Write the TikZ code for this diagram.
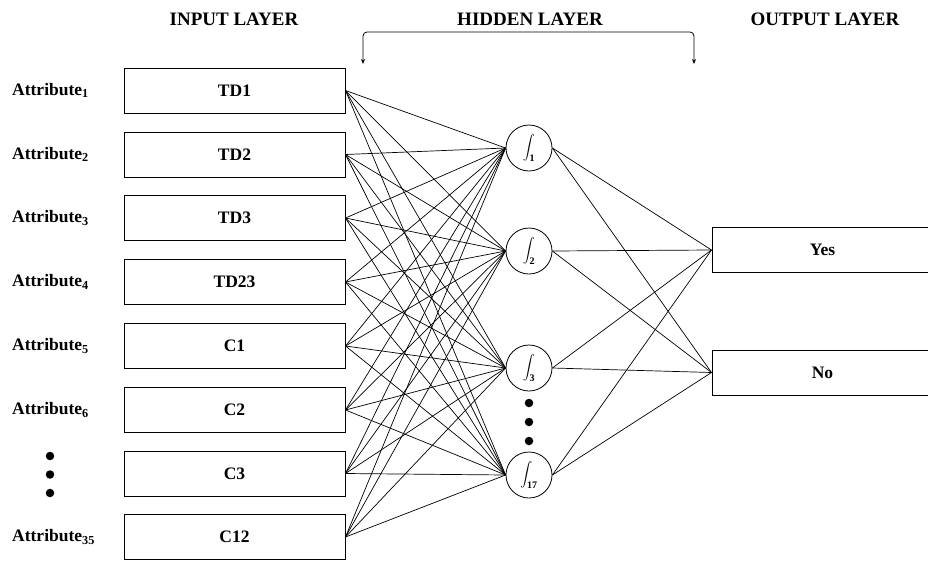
\documentclass[tikz,border=0pt]{standalone}
\usepackage{amsmath}
\usepackage{fontspec}
\setmainfont{Liberation Serif}
\usetikzlibrary{arrows.meta}
\newcommand{\hsub}[1]{\text{\fontsize{10}{10}\selectfont\bfseries #1}}
\begin{document}
\begin{tikzpicture}[x=1pt,y=-1pt,
  every node/.style={font=\fontsize{17.5}{20}\selectfont\bfseries},
  inbox/.style={draw, line width=1pt, minimum width=221pt, minimum height=45pt, inner sep=0pt},
  hid/.style={draw, circle, line width=0.8pt, minimum size=46pt, inner sep=0pt, font=\fontsize{13}{15}\selectfont},
  attr/.style={anchor=west, inner sep=0pt},
  head/.style={inner sep=0pt, font=\fontsize{19}{22}\selectfont\bfseries},
  conn/.style={line width=0.7pt},
  dotc/.style={fill, circle, minimum size=8.5pt, inner sep=0pt}]
\useasboundingbox (0,0) rectangle (928,560);
\clip (0,0) rectangle (928,560);

% headers
\node[head] (hin)  at (234,19) {INPUT LAYER};
\node[head] (hhid) at (530,19) {HIDDEN LAYER};
\node[head] (hout) at (825,19) {OUTPUT LAYER};

% brace arrows
\coordinate (bl) at (363,64);
\coordinate (br) at (694,64);
\draw[line width=0.8pt, rounded corners=4pt, {Stealth[length=5pt,width=4pt]}-{Stealth[length=5pt,width=4pt]}]
  (bl) -- (363,32) -- (694,32) -- (br);

% input boxes
\node[inbox] (i1) at (234.5,90.5) {TD1};
\node[inbox] (i2) at (234.5,154.5) {TD2};
\node[inbox] (i3) at (234.5,218) {TD3};
\node[inbox] (i4) at (234.5,282) {TD23};
\node[inbox] (i5) at (234.5,346) {C1};
\node[inbox] (i6) at (234.5,410) {C2};
\node[inbox] (i7) at (234.5,473.5) {C3};
\node[inbox] (i8) at (234.5,537) {C12};

% attribute labels
\node[attr] (a1) at (12,90.5) {Attribute\textsubscript{1}};
\node[attr] (a2) at (12,154.5) {Attribute\textsubscript{2}};
\node[attr] (a3) at (12,218) {Attribute\textsubscript{3}};
\node[attr] (a4) at (12,282) {Attribute\textsubscript{4}};
\node[attr] (a5) at (12,346) {Attribute\textsubscript{5}};
\node[attr] (a6) at (12,410) {Attribute\textsubscript{6}};
\node[attr] (a8) at (12,537) {Attribute\textsubscript{35}};
\node[dotc] (ld1) at (50,456) {};
\node[dotc] (ld2) at (50,474.5) {};
\node[dotc] (ld3) at (50,493) {};

% hidden nodes
\node[hid] (h1) at (529,148) {$\displaystyle\int_{\hsub{1}}$};
\node[hid] (h2) at (529,251) {$\displaystyle\int_{\hsub{2}}$};
\node[hid] (h3) at (529,368) {$\displaystyle\int_{\hsub{3}}$};
\node[hid] (h4) at (529,475) {$\displaystyle\int_{\hsub{17}}$};
\node[dotc] (hd1) at (529,403) {};
\node[dotc] (hd2) at (529,422) {};
\node[dotc] (hd3) at (529,441) {};

% output boxes
\node[inbox] (o1) at (822.5,250) {Yes};
\node[inbox] (o2) at (822.5,372.5) {No};

% connections
\foreach \i in {i1,i2,i3,i4,i5,i6,i7,i8}
  \foreach \h in {h1,h2,h3,h4}
    \draw[conn] (\i.east) -- (\h.west);
\foreach \h in {h1,h2,h3,h4}
  \foreach \o in {o1,o2}
    \draw[conn] (\h.east) -- (\o.west);
\end{tikzpicture}
\end{document}
